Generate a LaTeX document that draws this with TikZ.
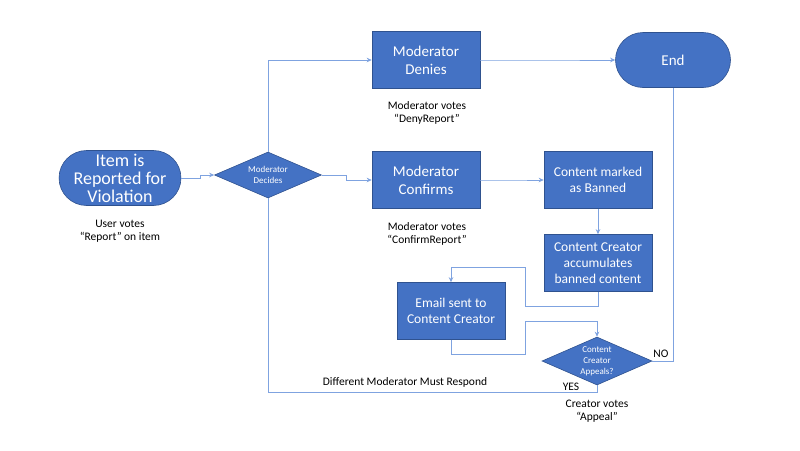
\documentclass[tikz,border=0pt]{standalone}
\usepackage{fontspec}
\setmainfont{Carlito}
\usetikzlibrary{shapes.misc,shapes.geometric,arrows.meta,calc}
\definecolor{boxfill}{HTML}{4472C4}
\definecolor{boxedge}{HTML}{2F528F}
\definecolor{linec}{HTML}{7FA3E0}
\begin{document}
\begin{tikzpicture}[x=1pt,y=-1pt,
 proc/.style={rectangle, fill=boxfill, draw=boxedge, line width=0.6pt, minimum width=108pt, minimum height=57pt, text=white, align=center, font=\fontsize{15}{18}\selectfont, inner sep=0pt},
 proc2/.style={proc, font=\fontsize{13.5}{16}\selectfont},
 term/.style={rounded rectangle, fill=boxfill, draw=boxedge, line width=0.6pt, minimum width=115pt, minimum height=55pt, text=white, align=center, font=\fontsize{15}{18}\selectfont, inner sep=0pt},
 dia/.style={diamond, fill=boxfill, draw=boxedge, line width=0.6pt, inner sep=0pt},
 diatext/.style={text=white, align=center, font=\fontsize{9}{11}\selectfont},
 note/.style={align=center, font=\fontsize{11.5}{13.5}\selectfont, text=black},
 conn/.style={draw=linec, line width=0.8pt},
 arr/.style={conn, -{Stealth[length=5pt,width=4.5pt]}}
]
\useasboundingbox[fill=white] (0,0) rectangle (800,450);

\node[term, font=\fontsize{18}{18}\selectfont] (item) at (120,178) {Item is\\Reported for\\Violation};
\node[dia, minimum width=107pt, minimum height=46pt] (dec) at (268,175) {};
\node[diatext] (dect) at (268,175) {Moderator\\Decides};
\node[proc] (deny) at (426,60) {Moderator\\Denies};
\node[proc] (conf) at (426,180) {Moderator\\Confirms};
\node[term] (endn) at (673,60) {End};
\node[proc2] (ban) at (598,180) {Content marked\\as Banned};
\node[proc2] (acc) at (598,263) {Content Creator\\accumulates\\banned content};
\node[proc2] (email) at (451,311) {Email sent to\\Content Creator};
\node[dia, minimum width=110pt, minimum height=48pt] (app) at (597,361) {};
\node[diatext] (appt) at (597,361) {Content\\Creator\\Appeals?};

\node[note] (n1) at (120,231) {User votes\\“Report” on item};
\node[note] (n2) at (427,113) {Moderator votes\\“DenyReport”};
\node[note] (n3) at (427,234) {Moderator votes\\“ConfirmReport”};
\node[note] (n4) at (597,411) {Creator votes\\“Appeal”};
\node[note] (diff) at (405,382) {Different Moderator Must Respond};
\node[note] (yes) at (571,387) {YES};
\node[note] (no) at (661,354) {NO};

\draw[arr] (item.east) -- ++(19,0) |- (dec.west);
\draw[arr] (dec.north) |- (deny.west);
\draw[arr] (dec.east) -- ++(25,0) |- (conf.west);
\draw[arr] (deny.east) -- ++(68,0) |- (endn.west);
\draw[arr] (conf.east) -- ++(33,0) |- (ban.west);
\draw[arr] (ban.south) -- (acc.north);
\draw[arr] (acc.south) -- ++(0,15) -- ++(-73,0) -- ++(0,-39) -| (email.north);
\draw[arr] (email.south) -- ++(0,15) -- ++(74,0) -- ++(0,-33) -| (app.north);
\draw[conn] (app.east) -| (endn.south);
\draw[conn] (app.south) -- ++(0,7) -| (dec.south);
\end{tikzpicture}
\end{document}
